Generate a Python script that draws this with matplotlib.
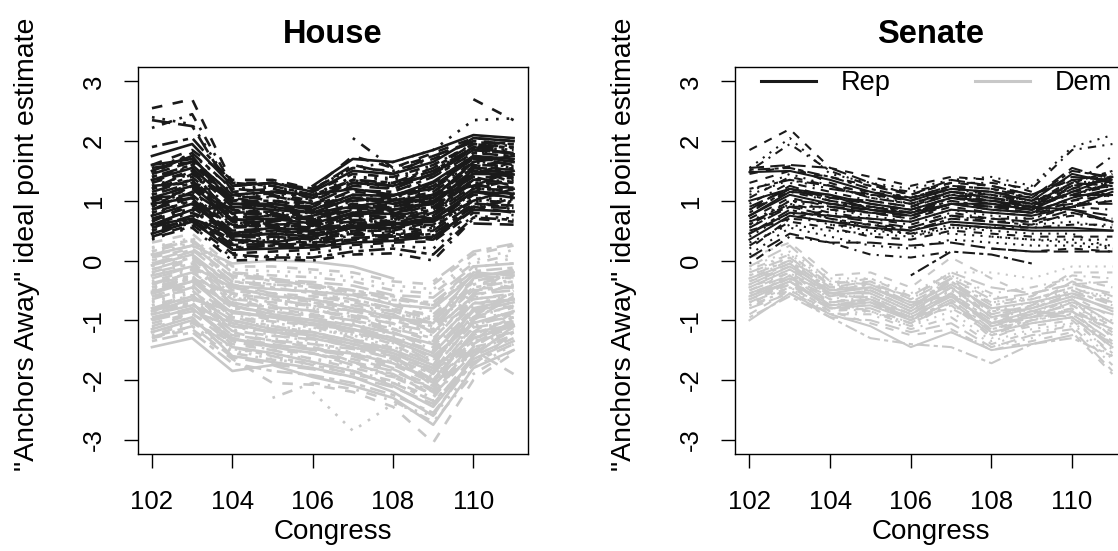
import numpy as np
import matplotlib
matplotlib.use("Agg")
import matplotlib.pyplot as plt

# Congress sessions on the x axis
CONGRESS = [102, 103, 104, 105, 106, 107, 108, 109, 110, 111]

# House Republicans, one row per member (None = not in office)
HOUSE_REP = [
    [2.55, 2.70, 1.30, 1.30, 1.15, 1.45, 1.40, 1.60, 1.95, 1.90],
    [2.40, 2.28, 1.20, 1.25, 1.10, 1.40, 1.35, 1.55, 1.90, 1.85],
    [2.22, 2.45, 1.25, 1.30, 1.20, 1.55, 1.50, 1.70, 2.00, 1.95],
    [2.35, 2.25, 1.15, 1.20, 1.05, 1.30, 1.25, 1.45, 1.85, 1.80],
    [1.90, 2.05, 1.30, 1.25, 1.10, 1.35, 1.30, 1.50, 1.90, 1.90],
    [1.75, 1.95, 1.25, 1.30, 1.15, 1.50, 1.45, 1.65, 2.05, 2.00],
    [1.60, 1.85, 1.35, 1.35, 1.20, 1.75, 1.55, 1.80, 2.05, 2.00],
    [1.55, 1.78, 1.20, 1.22, 1.08, 1.40, 1.38, 1.60, 1.95, 1.92],
    [1.50, 1.70, 1.10, 1.12, 1.00, 1.30, 1.28, 1.50, 1.88, 1.85],
    [1.45, 1.65, 1.05, 1.08, 0.95, 1.25, 1.20, 1.45, 1.85, 1.80],
    [1.40, 1.60, 1.00, 1.00, 0.90, 1.18, 1.15, 1.40, 1.80, 1.75],
    [1.35, 1.55, 0.95, 0.95, 0.85, 1.10, 1.08, 1.32, 1.75, 1.70],
    [1.30, 1.50, 0.90, 0.92, 0.82, 1.05, 1.02, 1.25, 1.70, 1.66],
    [1.25, 1.45, 0.85, 0.88, 0.78, 1.00, 0.98, 1.20, 1.65, 1.62],
    [1.20, 1.40, 0.80, 0.82, 0.72, 0.95, 0.92, 1.15, 1.60, 1.58],
    [1.15, 1.35, 0.78, 0.78, 0.70, 0.90, 0.88, 1.10, 1.55, 1.52],
    [1.10, 1.30, 0.72, 0.75, 0.65, 0.85, 0.82, 1.05, 1.50, 1.48],
    [1.05, 1.25, 0.68, 0.70, 0.62, 0.80, 0.78, 1.00, 1.45, 1.44],
    [1.00, 1.20, 0.65, 0.66, 0.58, 0.76, 0.74, 0.95, 1.40, 1.38],
    [0.95, 1.15, 0.60, 0.62, 0.55, 0.72, 0.70, 0.90, 1.35, 1.33],
    [0.90, 1.10, 0.55, 0.58, 0.50, 0.68, 0.66, 0.85, 1.30, 1.28],
    [0.85, 1.05, 0.50, 0.54, 0.48, 0.64, 0.62, 0.80, 1.25, 1.22],
    [0.80, 1.00, 0.46, 0.50, 0.44, 0.60, 0.58, 0.75, 1.20, 1.18],
    [0.75, 0.95, 0.42, 0.45, 0.40, 0.55, 0.54, 0.70, 1.15, 1.12],
    [0.70, 0.90, 0.38, 0.40, 0.36, 0.50, 0.50, 0.65, 1.10, 1.08],
    [0.65, 0.85, 0.34, 0.36, 0.32, 0.46, 0.46, 0.60, 1.05, 1.02],
    [0.60, 0.80, 0.30, 0.32, 0.30, 0.42, 0.42, 0.55, 1.00, 0.98],
    [0.55, 0.75, 0.26, 0.28, 0.26, 0.38, 0.40, 0.50, 0.95, 0.92],
    [0.50, 0.70, 0.22, 0.25, 0.24, 0.34, 0.36, 0.45, 0.90, 0.88],
    [0.45, 0.65, 0.18, 0.20, 0.22, 0.30, 0.33, 0.40, 0.85, 0.82],
    [0.40, 0.60, 0.12, 0.15, 0.18, 0.26, 0.30, 0.32, 0.80, 0.76],
    [0.35, 0.58, 0.05, 0.08, 0.12, 0.22, 0.25, 0.20, 0.75, 0.70],
    [0.38, 0.55, 0.00, 0.02, 0.00, 0.10, 0.12, 0.00, 0.70, 0.65],
    [None, None, 1.25, 1.30, 1.18, 1.60, 1.45, 1.75, 1.98, 1.95],
    [None, None, 0.10, 0.05, 0.05, 0.15, 0.20, 0.10, 0.72, 0.68],
    [None, None, None, None, 1.25, 1.70, 1.65, 1.85, 2.10, 2.05],
    [None, None, None, None, None, None, None, None, 2.70, 2.35],
    [None, None, None, None, 1.20, 1.55, 1.65, 1.85, 2.35, 2.38],
    [None, None, None, None, None, 2.05, 1.55, 1.75, 2.00, 1.95],
    [None, None, None, None, None, None, None, None, 0.62, 0.60],
    [1.20, 1.35, 0.55, 0.65, 0.75, 0.95, 0.80, 0.70, 1.55, 1.30],
    [0.60, 0.85, 0.90, 0.85, 0.80, 0.90, 1.00, 1.10, 1.25, 1.50],
    [1.00, 1.30, 1.10, 1.00, 0.95, 1.15, 1.10, 1.25, 1.70, 1.60],
    [0.80, 0.95, 0.75, 0.80, 0.70, 0.70, 0.60, 0.55, 1.05, 0.95],
    [1.40, 1.55, 0.65, 0.55, 0.45, 0.55, 0.55, 0.60, 1.15, 1.25],
    [None, None, 0.40, 0.45, 0.50, 0.75, 0.85, 0.95, 1.45, 1.55],
    [0.55, 0.65, 0.20, 0.25, 0.30, 0.35, 0.45, 0.35, 0.85, 1.05],
    [1.50, 1.75, 0.95, 0.90, 0.80, 1.05, 0.95, 1.05, 1.65, 1.75],
    [0.70, 0.80, 0.55, 0.70, 0.70, 0.85, 0.90, 1.00, 1.40, 1.25],
    [1.30, 1.60, 1.15, 1.05, 1.00, 1.35, 1.20, 1.30, 1.80, 1.85],
    [0.45, 0.70, 0.35, 0.50, 0.55, 0.60, 0.65, 0.70, 1.10, 1.15],
    [1.05, 1.10, 0.45, 0.40, 0.35, 0.45, 0.40, 0.35, 0.90, 0.80],
    [0.90, 1.25, 0.85, 0.75, 0.60, 0.65, 0.75, 0.85, 1.45, 1.65],
    [1.60, 1.70, 1.10, 1.15, 1.10, 1.20, 1.10, 1.20, 1.75, 1.65],
    [0.65, 0.95, 0.60, 0.55, 0.60, 0.80, 0.70, 0.75, 1.20, 1.35],
    [None, None, 0.85, 0.95, 1.05, 1.25, 1.30, 1.40, 1.85, 1.70],
    [None, None, None, None, 0.30, 0.45, 0.55, 0.50, 0.95, 0.90],
    [None, None, None, None, None, None, 0.95, 1.10, 1.55, 1.45],
    [1.20, 1.50, 0.70, 0.60, 0.55, 0.80, 0.85, 0.95, 1.30, 1.10],
    [0.95, 1.05, 0.35, 0.30, 0.40, 0.55, 0.60, 0.65, 1.00, 1.20],
    [1.35, 1.45, 1.00, 1.10, 0.95, 1.05, 1.00, 1.15, 1.60, 1.50],
    [0.50, 0.62, 0.28, 0.35, 0.38, 0.48, 0.52, 0.58, 1.00, 0.85],
    [1.10, 1.45, 1.05, 0.95, 0.90, 1.10, 1.05, 1.20, 1.65, 1.55],
    [0.85, 1.15, 0.70, 0.75, 0.68, 0.88, 0.85, 0.98, 1.50, 1.40],
    [1.45, 1.80, 1.20, 1.15, 1.05, 1.35, 1.30, 1.55, 1.95, 1.88],
    [0.60, 0.70, 0.45, 0.55, 0.50, 0.58, 0.62, 0.68, 1.15, 1.05],
    [1.25, 1.30, 0.85, 0.80, 0.65, 0.75, 0.72, 0.82, 1.35, 1.45],
    [0.75, 1.05, 0.58, 0.60, 0.55, 0.68, 0.72, 0.80, 1.30, 1.20],
    [0.40, 0.68, 0.30, 0.40, 0.42, 0.52, 0.48, 0.42, 0.92, 1.00],
    [1.55, 1.65, 1.00, 0.95, 0.88, 1.00, 1.05, 1.30, 1.72, 1.60],
    [None, None, 0.65, 0.60, 0.62, 0.78, 0.80, 0.90, 1.35, 1.30],
    [None, None, None, None, None, 1.30, 1.25, 1.45, 1.90, 1.78],
    [0.98, 1.22, 0.80, 0.85, 0.75, 0.92, 0.90, 1.05, 1.58, 1.68],
    [0.68, 0.88, 0.48, 0.45, 0.42, 0.62, 0.68, 0.78, 1.22, 1.12],
]

# House Democrats
HOUSE_DEM = [
    [0.30, 0.45, -0.10, -0.10, -0.15, -0.20, -0.35, -0.40, 0.10, 0.25],
    [0.22, 0.38, -0.15, -0.18, -0.20, -0.28, -0.42, -0.48, 0.00, 0.18],
    [0.15, 0.32, -0.20, -0.25, -0.28, -0.35, -0.50, -0.55, -0.05, 0.10],
    [0.08, 0.25, -0.28, -0.32, -0.36, -0.42, -0.58, -0.62, -0.10, -0.05],
    [0.00, 0.18, -0.35, -0.40, -0.44, -0.50, -0.66, -0.70, -0.18, -0.12],
    [-0.08, 0.10, -0.42, -0.48, -0.52, -0.58, -0.74, -0.80, -0.25, -0.20],
    [-0.15, 0.03, -0.50, -0.55, -0.60, -0.66, -0.82, -0.90, -0.32, -0.28],
    [-0.22, -0.05, -0.58, -0.63, -0.68, -0.75, -0.90, -1.00, -0.40, -0.35],
    [-0.30, -0.12, -0.65, -0.70, -0.76, -0.84, -0.98, -1.10, -0.48, -0.42],
    [-0.38, -0.20, -0.72, -0.78, -0.84, -0.92, -1.06, -1.20, -0.56, -0.50],
    [-0.45, -0.28, -0.80, -0.86, -0.92, -1.00, -1.14, -1.30, -0.64, -0.58],
    [-0.52, -0.35, -0.88, -0.94, -1.00, -1.08, -1.22, -1.40, -0.72, -0.65],
    [-0.60, -0.42, -0.95, -1.02, -1.08, -1.16, -1.30, -1.50, -0.80, -0.72],
    [-0.68, -0.50, -1.02, -1.10, -1.16, -1.24, -1.38, -1.60, -0.88, -0.80],
    [-0.75, -0.58, -1.10, -1.18, -1.24, -1.32, -1.46, -1.70, -0.96, -0.88],
    [-0.82, -0.65, -1.18, -1.26, -1.32, -1.40, -1.55, -1.80, -1.04, -0.95],
    [-0.90, -0.72, -1.25, -1.34, -1.40, -1.48, -1.64, -1.90, -1.12, -1.02],
    [-0.98, -0.80, -1.32, -1.42, -1.48, -1.56, -1.72, -2.00, -1.20, -1.08],
    [-1.05, -0.88, -1.40, -1.50, -1.56, -1.65, -1.82, -2.10, -1.30, -1.15],
    [-1.12, -0.95, -1.48, -1.58, -1.64, -1.75, -1.92, -2.20, -1.40, -1.20],
    [-1.20, -1.02, -1.55, -1.66, -1.72, -1.85, -2.02, -2.30, -1.50, -1.25],
    [-1.28, -1.10, -1.62, -1.74, -1.82, -1.95, -2.12, -2.40, -1.60, -1.30],
    [-1.35, -1.20, -1.72, -1.85, -1.92, -2.05, -2.25, -2.55, -1.70, -1.40],
    [-1.45, -1.30, -1.85, -1.75, -1.95, -2.10, -2.30, -2.75, -1.80, -1.50],
    [-1.30, -1.15, -1.65, -2.05, -2.08, -2.20, -2.45, -3.05, -2.00, -1.55],
    [None, None, None, None, -2.20, -2.85, -2.40, -2.60, -1.80, -1.40],
    [None, None, None, -2.30, -2.05, -2.15, -2.35, -2.70, -1.90, -1.50],
    [-0.95, -0.80, -1.30, -1.40, -1.50, -1.60, -1.80, -2.20, -1.50, -1.90],
    [None, None, None, None, None, None, None, -0.35, 0.15, 0.28],
    [0.10, 0.25, -0.05, 0.00, -0.02, -0.10, -0.30, None, None, None],
    [-0.20, 0.00, -0.75, -0.95, -1.10, -1.20, -1.40, -1.75, -0.90, -0.60],
    [-0.60, -0.40, -0.60, -0.70, -0.80, -0.95, -1.10, -1.25, -0.50, -0.30],
    [0.20, 0.35, -0.40, -0.55, -0.70, -0.85, -1.00, -1.20, -0.70, -0.80],
    [-1.00, -0.85, -1.10, -1.20, -1.30, -1.45, -1.60, -1.85, -1.00, -0.60],
    [-0.40, -0.25, -1.00, -1.15, -1.25, -1.40, -1.60, -2.00, -1.25, -0.95],
    [-1.15, -0.95, -1.60, -1.70, -1.80, -1.95, -2.20, -2.60, -1.60, -1.10],
    [0.05, 0.20, -0.25, -0.30, -0.45, -0.55, -0.75, -0.95, -0.35, -0.45],
    [-0.70, -0.55, -0.90, -1.05, -1.12, -1.25, -1.45, -1.65, -1.15, -1.00],
    [None, None, -0.55, -0.65, -0.75, -0.90, -1.05, -1.40, -0.75, -0.55],
    [None, None, None, None, None, None, -0.90, -1.20, -0.30, -0.15],
    [-0.85, -0.70, -1.45, -1.60, -1.75, -1.90, -2.05, -2.35, -1.75, -1.20],
    [-0.25, -0.10, -0.45, -0.60, -0.65, -0.80, -0.95, -1.05, -0.20, -0.25],
    [-0.55, -0.40, -1.20, -1.35, -1.45, -1.70, -1.95, -2.25, -1.45, -1.30],
    [-0.10, 0.08, -0.60, -0.80, -0.90, -1.05, -1.25, -1.55, -0.60, -0.70],
    [-1.25, -1.05, -1.35, -1.50, -1.65, -1.80, -1.95, -2.10, -1.35, -0.85],
    [-0.05, 0.15, -0.70, -0.85, -0.95, -1.10, -1.30, -1.65, -0.95, -0.50],
    [-0.45, -0.30, -0.55, -0.65, -0.75, -0.85, -0.95, -1.15, -0.60, -0.40],
    [-0.80, -0.60, -1.00, -1.15, -1.20, -1.35, -1.50, -1.75, -0.80, -0.65],
    [-1.10, -0.90, -1.25, -1.35, -1.45, -1.60, -1.75, -2.05, -1.20, -0.75],
    [0.10, 0.30, -0.30, -0.40, -0.50, -0.60, -0.70, -0.85, -0.15, 0.05],
    [-0.35, -0.15, -0.85, -1.00, -1.10, -1.30, -1.50, -1.90, -1.10, -0.90],
    [-0.65, -0.45, -1.30, -1.45, -1.55, -1.75, -1.90, -2.25, -1.55, -1.15],
    [-0.15, 0.05, -0.35, -0.45, -0.55, -0.65, -0.80, -1.00, -0.45, -0.35],
    [-0.90, -0.75, -1.05, -1.20, -1.25, -1.40, -1.55, -1.80, -1.30, -1.10],
    [None, None, -0.20, -0.30, -0.40, -0.55, -0.65, -0.75, -0.10, -0.05],
    [None, None, -1.10, -1.25, -1.35, -1.55, -1.70, -2.00, -1.10, -0.85],
    [None, None, None, None, -0.80, -1.00, -1.20, -1.50, -0.80, -0.95],
    [None, None, None, None, None, None, -1.60, -2.10, -1.40, -1.00],
    [-0.50, -0.30, -0.95, -1.10, -1.20, -1.35, -1.55, -1.85, -1.35, -1.20],
    [-1.20, -1.00, -1.45, -1.55, -1.70, -1.85, -2.10, -2.45, -1.65, -1.35],
    [-0.30, -0.10, -0.55, -0.75, -0.85, -0.95, -1.15, -1.35, -0.55, -0.15],
    [-0.75, -0.60, -1.15, -1.30, -1.40, -1.55, -1.70, -1.95, -1.25, -0.95],
    [-0.20, -0.05, -0.50, -0.60, -0.70, -0.80, -0.90, -1.10, -0.35, -0.20],
    [-1.00, -0.80, -1.35, -1.45, -1.55, -1.70, -1.85, -2.15, -1.45, -1.05],
    [0.15, 0.35, -0.20, -0.35, -0.40, -0.50, -0.60, -0.75, -0.25, -0.30],
    [-0.55, -0.35, -0.75, -0.90, -1.00, -1.15, -1.30, -1.55, -0.85, -0.70],
    [-0.40, -0.20, -0.65, -0.80, -0.90, -1.00, -1.20, -1.45, -0.65, -0.55],
    [-1.30, -1.10, -1.50, -1.65, -1.75, -1.90, -2.05, -2.35, -1.70, -1.10],
    [-0.05, 0.10, -0.45, -0.55, -0.65, -0.75, -0.85, -0.95, -0.40, -0.25],
    [None, None, -0.85, -0.95, -1.05, -1.20, -1.35, -1.70, -0.95, -0.75],
    [None, None, None, None, -0.60, -0.70, -0.85, -1.05, -0.50, -0.45],
    [-0.85, -0.65, -0.85, -0.95, -1.05, -1.15, -1.35, -1.60, -1.05, -0.85],
    [-0.60, -0.50, -1.05, -1.20, -1.30, -1.45, -1.65, -2.05, -1.30, -1.05],
]

# Senate Republicans
SENATE_REP = [
    [1.85, 2.20, 1.55, 1.40, 1.25, 1.40, 1.35, 1.15, None, None],
    [1.55, 2.05, 1.45, 1.30, 1.20, 1.35, 1.40, 1.25, 1.90, 2.10],
    [1.50, 1.95, 1.50, 1.25, 1.15, 1.30, 1.30, 1.20, 1.85, 1.95],
    [1.55, 1.60, 1.55, 1.30, 1.10, 1.35, 1.25, 1.10, 1.40, 1.35],
    [1.52, 1.55, 1.40, 1.20, 1.05, 1.25, 1.20, 1.05, 1.50, 1.40],
    [1.48, 1.50, 1.35, 1.15, 1.00, 1.20, 1.15, 1.00, 1.45, 1.30],
    [1.45, 1.58, 1.30, 1.10, 1.00, 1.25, 1.10, 0.95, 1.35, 1.45],
    [1.15, 1.45, 1.25, 1.05, 0.95, 1.15, 1.05, 0.95, 1.30, 1.35],
    [0.95, 1.30, 1.15, 1.00, 0.90, 1.10, 1.00, 0.90, 1.25, 1.30],
    [0.85, 1.25, 1.05, 0.95, 0.85, 1.05, 0.95, 0.85, 1.20, 1.40],
    [0.80, 1.20, 1.00, 0.90, 0.80, 1.00, 0.90, 0.90, 1.15, 1.25],
    [0.75, 1.10, 0.95, 0.85, 0.75, 0.95, 0.85, 0.80, 1.05, 1.20],
    [0.70, 1.05, 0.90, 0.80, 0.70, 0.90, 0.80, 0.75, 1.00, 1.10],
    [0.65, 1.00, 0.85, 0.75, 0.65, 0.85, 0.75, 0.70, 0.95, 1.00],
    [0.60, 0.95, 0.80, 0.70, 0.60, 0.80, 0.70, 0.70, 0.90, 0.85],
    [0.55, 0.90, 0.75, 0.65, 0.55, 0.75, 0.70, 0.65, 0.85, 0.75],
    [0.45, 0.85, 0.70, 0.60, 0.50, 0.70, 0.65, 0.60, 0.80, 0.65],
    [0.35, 0.75, 0.65, 0.55, 0.50, 0.65, 0.60, 0.55, 0.55, 0.50],
    [0.25, 0.65, 0.55, 0.40, 0.35, 0.50, 0.45, 0.40, 0.40, 0.40],
    [0.10, 0.55, 0.40, 0.25, 0.20, 0.35, 0.30, 0.25, 0.25, 0.20],
    [-0.05, 0.40, 0.30, 0.10, 0.05, 0.15, None, None, None, None],
    [0.05, 0.45, 0.30, 0.30, 0.25, 0.30, 0.20, 0.15, 0.15, 0.15],
    [None, None, None, None, -0.25, 0.15, 0.10, -0.05, None, None],
    [None, None, None, None, None, 0.60, 0.55, 0.50, 0.50, 0.50],
    [None, None, None, None, None, None, 0.20, 0.15, 0.20, 0.15],
    [None, None, None, None, None, None, 0.40, 0.35, 0.30, 0.25],
    [None, None, None, None, None, None, None, 0.85, 1.25, 1.75],
    [None, None, 1.20, 1.10, 1.05, 1.20, 1.15, 1.05, 1.55, 1.35],
    [None, None, None, None, 0.95, 1.15, 1.05, 0.95, 1.30, 1.50],
    [1.00, 1.20, 1.10, 0.95, 0.85, 1.05, 1.00, 0.90, 0.85, 0.65],
    [0.50, 0.70, 0.85, 0.80, 0.70, 0.95, 0.85, 0.80, 1.05, 1.35],
    [1.10, 1.35, 1.20, 1.10, 0.95, 1.20, 1.10, 1.00, 1.20, 1.45],
    [None, None, 0.60, 0.55, 0.45, 0.60, 0.55, 0.55, 0.60, 0.60],
    [0.90, 1.20, 1.05, 1.00, 0.90, 1.15, 1.05, 0.95, 1.10, 1.30],
    [0.60, 1.00, 0.95, 0.90, 0.80, 1.05, 1.00, 0.85, 1.00, 1.20],
    [0.75, 1.15, 1.10, 0.85, 0.80, 0.95, 0.95, 0.85, 1.15, 1.40],
    [1.30, 1.50, 1.40, 1.25, 1.10, 1.30, 1.25, 1.10, 1.35, 1.40],
    [0.40, 0.80, 0.60, 0.50, 0.45, 0.55, 0.50, 0.45, 0.45, 0.20],
    [0.20, 0.70, 0.65, 0.60, 0.55, 0.75, 0.65, 0.65, 0.75, 0.70],
    [None, None, 0.90, 0.80, 0.75, 0.95, 0.90, 0.85, 0.95, 0.95],
    [None, None, None, None, None, 1.10, 1.05, 0.90, 1.30, 1.25],
    [None, None, None, None, None, None, None, None, 1.10, 1.10],
    [1.05, 1.40, 1.25, 1.15, 1.05, 1.25, 1.20, 1.10, 1.35, 1.05],
    [0.55, 0.95, 0.70, 0.55, 0.45, 0.45, 0.40, 0.35, 0.35, 0.35],
    [0.85, 1.15, 1.00, 0.90, 0.85, 1.05, 0.95, 0.90, 1.10, 1.25],
    [0.65, 0.90, 0.90, 0.85, 0.75, 0.95, 0.90, 0.80, 0.90, 1.00],
    [1.20, 1.35, 1.25, 1.05, 0.95, 1.15, 1.10, 1.00, 1.25, 1.35],
    [0.45, 0.80, 0.75, 0.70, 0.65, 0.85, 0.80, 0.75, 0.90, 1.15],
    [None, None, None, None, 0.90, 1.10, 1.00, 0.95, 1.20, 1.40],
    [0.30, 0.60, 0.50, 0.45, 0.40, 0.55, 0.55, 0.60, 0.65, 0.55],
]

# Senate Democrats
SENATE_DEM = [
    [0.05, 0.30, -0.25, -0.20, -0.45, 0.05, -0.30, -0.60, -0.20, -0.20],
    [-0.10, 0.15, -0.30, -0.30, -0.55, -0.20, -0.20, -0.30, -0.10, -0.10],
    [-0.15, 0.10, -0.40, -0.30, -0.60, -0.25, -0.55, -0.45, -0.30, -0.45],
    [-0.20, 0.05, -0.45, -0.35, -0.65, -0.30, -0.65, -0.55, -0.40, -0.55],
    [-0.25, 0.00, -0.50, -0.40, -0.70, -0.35, -0.75, -0.65, -0.45, -0.70],
    [-0.30, -0.05, -0.55, -0.45, -0.75, -0.40, -0.80, -0.70, -0.55, -0.85],
    [-0.35, -0.10, -0.60, -0.50, -0.80, -0.45, -0.90, -0.80, -0.60, -0.95],
    [-0.40, -0.15, -0.65, -0.55, -0.85, -0.50, -0.95, -0.85, -0.70, -1.05],
    [-0.45, -0.20, -0.70, -0.60, -0.90, -0.55, -1.00, -0.90, -0.75, -1.15],
    [-0.50, -0.25, -0.75, -0.65, -0.95, -0.60, -1.10, -0.95, -0.85, -1.25],
    [-0.55, -0.30, -0.80, -0.70, -1.00, -0.65, -1.15, -1.00, -0.90, -1.35],
    [-0.60, -0.35, -0.80, -0.75, -1.00, -0.70, -1.20, -1.05, -0.95, -1.45],
    [-0.65, -0.40, -0.85, -0.80, -1.05, -0.75, -1.25, -1.10, -1.00, -1.55],
    [-0.70, -0.45, -0.90, -0.85, -1.10, -0.85, -1.35, -1.15, -1.05, -1.65],
    [-0.75, -0.50, -0.90, -0.90, -1.15, -0.95, -1.40, -1.20, -1.10, -1.75],
    [-0.80, -0.55, -0.95, -1.00, -1.20, -1.05, -1.45, -1.25, -1.15, -1.85],
    [-0.95, -0.60, -0.95, -1.30, -1.40, -1.45, -1.72, -1.40, -1.30, -1.60],
    [-1.00, -0.55, -0.90, -1.10, -1.45, -1.20, -1.50, -1.40, -1.25, None],
    [-0.90, -0.50, -0.85, -1.05, -1.25, -1.15, -1.50, -1.35, -1.20, -1.90],
    [None, None, None, None, None, -1.20, -1.45, -1.30, -1.05, -1.40],
    [-0.30, 0.00, -0.40, -0.55, -0.85, -0.40, -0.70, -0.60, -0.25, -0.30],
    [-0.55, -0.30, -0.60, -0.50, -0.80, -0.30, -0.90, -0.75, -0.35, -0.60],
    [-0.60, -0.25, -0.55, -0.65, -1.00, -0.55, -1.00, -0.75, -0.50, -0.75],
    [-0.40, -0.10, -0.50, -0.45, -0.70, -0.60, -1.05, -0.85, -0.65, -1.05],
    [-0.70, -0.40, -0.75, -0.75, -0.95, -0.80, -1.15, -0.95, -0.80, -1.20],
    [None, None, None, -0.60, -0.90, -0.50, -0.85, -0.70, -0.90, -1.00],
    [-0.75, -0.35, -0.70, -0.85, -1.05, -0.70, -1.25, -1.00, -0.80, -1.50],
    [-0.10, 0.25, -0.35, -0.40, -0.60, -0.20, -0.45, -0.55, -0.40, -0.35],
    [-0.35, -0.05, -0.45, -0.50, -0.80, -0.35, -0.85, -0.80, -0.55, -0.70],
    [-0.65, -0.35, -0.75, -0.70, -0.95, -0.60, -1.05, -0.95, -0.70, -0.90],
    [-0.50, -0.20, -0.60, -0.60, -0.90, -0.45, -0.95, -0.90, -0.65, -1.30],
    [-0.20, 0.10, -0.35, -0.35, -0.65, -0.25, -0.60, -0.65, -0.50, -0.60],
    [-0.80, -0.45, -0.80, -0.85, -1.10, -0.70, -1.30, -1.05, -0.95, -1.60],
    [None, None, -0.70, -0.65, -0.90, -0.55, -1.10, -0.90, -0.85, -1.15],
    [None, None, None, None, None, -0.45, -0.80, -0.85, -0.95, -1.40],
    [-0.45, -0.15, -0.55, -0.55, -0.85, -0.45, -0.95, -0.80, -0.60, -0.80],
    [-0.60, -0.30, -0.65, -0.70, -0.95, -0.55, -1.05, -0.90, -0.75, -1.10],
    [-0.25, 0.05, -0.40, -0.45, -0.75, -0.30, -0.70, -0.65, -0.45, -0.65],
    [-0.70, -0.45, -0.80, -0.80, -1.05, -0.65, -1.20, -1.00, -0.85, -1.40],
]

REP_COLOR = "#1a1a1a"
DEM_COLOR = "#c8c8c8"
# R-like lty cycle: solid, dashed, dotted, dotdash, longdash, twodash
LINE_STYLES = ["-", (0, (4, 4)), (0, (1, 3)), (0, (1, 3, 4, 3)),
               (0, (7, 3)), (0, (2, 2, 6, 2))]

plt.rcParams["font.family"] = ["Liberation Sans", "DejaVu Sans"]
plt.rcParams["axes.unicode_minus"] = False


def draw_party(ax, rows, color, lw):
    """Draw one line per member, cycling the line type."""
    for i, row in enumerate(rows):
        y = np.array(row, dtype=float)
        ax.plot(CONGRESS, y, color=color, lw=lw,
                linestyle=LINE_STYLES[(i + 1) % len(LINE_STYLES)])


def style_panel(ax, title):
    ax.set_xlim(101.64, 111.36)
    ax.set_ylim(-3.24, 3.24)
    ax.set_xticks([102, 104, 106, 108, 110])
    ax.set_yticks([-3, -2, -1, 0, 1, 2, 3])
    ax.tick_params(axis="both", length=10, width=1.0, labelsize=18.5,
                   direction="out")
    ax.tick_params(axis="x", pad=16)
    ax.tick_params(axis="y", pad=13, labelrotation=90)
    for lab in ax.get_yticklabels():
        lab.set_va("center")
    for sp in ax.spines.values():
        sp.set_linewidth(1.0)
    ax.set_title(title, fontsize=23.5, fontweight="bold", y=1.085,
                 va="center", pad=0)
    ax.set_xlabel("Congress", fontsize=20, va="center")
    ax.xaxis.set_label_coords(0.5, -0.202)
    ax.set_ylabel('"Anchors Away" ideal point estimate', fontsize=20.5,
                  va="center")
    ax.yaxis.set_label_coords(-0.284, 0.542)


fig = plt.figure(figsize=(11.18, 5.51), dpi=100)
ax_house = fig.add_axes([0.1230, 0.1760, 0.3493, 0.7024])
ax_senate = fig.add_axes([0.6574, 0.1760, 0.3506, 0.7024])

draw_party(ax_house, HOUSE_DEM, DEM_COLOR, 1.9)
draw_party(ax_house, HOUSE_REP, REP_COLOR, 1.9)
style_panel(ax_house, "House")

draw_party(ax_senate, SENATE_DEM, DEM_COLOR, 1.5)
draw_party(ax_senate, SENATE_REP, REP_COLOR, 1.5)
style_panel(ax_senate, "Senate")

# legend handles for the Senate panel
h_rep, = ax_senate.plot([], [], color=REP_COLOR, lw=2.2, label="Rep")
h_dem, = ax_senate.plot([], [], color=DEM_COLOR, lw=2.2, label="Dem")
ax_senate.legend(handles=[h_rep, h_dem], loc="center left",
                 bbox_to_anchor=(0.066, 0.9587), ncol=2, frameon=False,
                 fontsize=19.5, handlelength=2.05, handletextpad=0.9,
                 columnspacing=3.1, borderpad=0, borderaxespad=0)

fig.savefig("out.png", dpi=100)
